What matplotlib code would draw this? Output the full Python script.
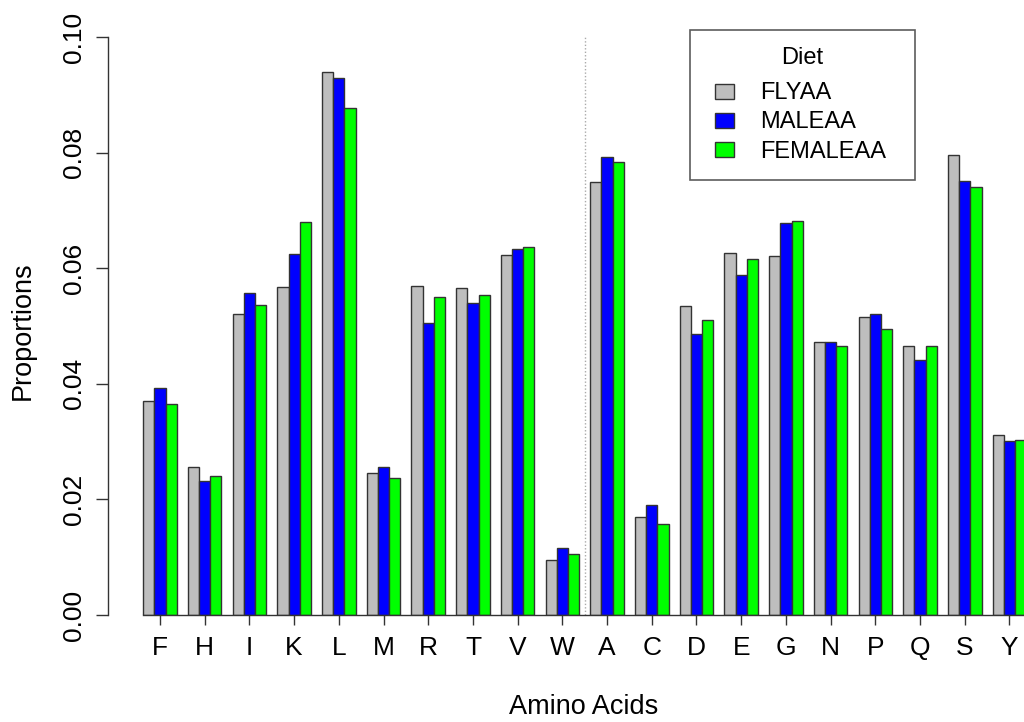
import numpy as np
from matplotlib import pyplot as plt
from matplotlib.patches import Rectangle
from matplotlib.legend_handler import HandlerPatch

plt.rcParams['font.family'] = ['Liberation Sans', 'DejaVu Sans']

amino = ['F', 'H', 'I', 'K', 'L', 'M', 'R', 'T', 'V', 'W',
         'A', 'C', 'D', 'E', 'G', 'N', 'P', 'Q', 'S', 'Y']
flyaa = [0.0370, 0.0256, 0.0520, 0.0567, 0.0940, 0.0245, 0.0569, 0.0565, 0.0622, 0.0095,
         0.0749, 0.0170, 0.0535, 0.0627, 0.0621, 0.0472, 0.0516, 0.0466, 0.0796, 0.0312]
maleaa = [0.0393, 0.0232, 0.0557, 0.0625, 0.0929, 0.0256, 0.0506, 0.0539, 0.0633, 0.0116,
          0.0792, 0.0190, 0.0487, 0.0588, 0.0679, 0.0472, 0.0520, 0.0442, 0.0751, 0.0301]
femaleaa = [0.0365, 0.0241, 0.0537, 0.0680, 0.0878, 0.0237, 0.0551, 0.0554, 0.0637, 0.0106,
            0.0783, 0.0157, 0.0511, 0.0616, 0.0682, 0.0466, 0.0495, 0.0466, 0.0740, 0.0303]
diets = ['FLYAA', 'MALEAA', 'FEMALEAA']
colors = ['#BEBEBE', '#0000FF', '#00FF00']

W, H = 1024, 722
fig = plt.figure(figsize=(W / 100, H / 100), dpi=100)
# plot region in pixels: x 108..1024, y 37..615
ax = fig.add_axes([108 / W, 1 - 615 / H, (W - 108) / W, (615 - 37) / H])

centers = np.arange(len(amino)) * 4.0
handles = []
for k, (vals, col, name) in enumerate(zip([flyaa, maleaa, femaleaa], colors, diets)):
    b = ax.bar(centers + (k - 1), vals, width=1.0, color=col, edgecolor='#333333',
               linewidth=1.0, label=name, zorder=3)
    handles.append(b.patches[0])

# divider between the two amino acid groups
split = (centers[9] + centers[10]) / 2
ax.plot([split, split], [0, 0.1], ls=(0, (1, 1.5)), color='#aaaaaa', lw=1.0, zorder=1)

ax.set_xlim(-4.65, 77.3)
ax.set_ylim(0, 0.1)
for s in ['top', 'right']:
    ax.spines[s].set_visible(False)
ax.spines['bottom'].set_bounds(-1.5, 77.3)
ax.spines['left'].set_bounds(0, 0.1)
for s in ['bottom', 'left']:
    ax.spines[s].set_color('#333333')
    ax.spines[s].set_linewidth(1.0)
    ax.spines[s].set_zorder(4)

ax.set_xticks(centers)
ax.set_xticklabels(amino)
ax.set_yticks(np.arange(0, 0.101, 0.02))
ax.set_yticklabels(['%.2f' % v for v in np.arange(0, 0.101, 0.02)], rotation=90, va='center')
ax.tick_params(axis='x', length=10 * 0.72, width=1.0, pad=8, labelsize=19, color='#333333')
ax.tick_params(axis='y', length=12 * 0.72, width=1.0, pad=7, labelsize=19, color='#333333')

fig.text(584 / W, 1 - 707 / H, 'Amino Acids', ha='center', va='center', fontsize=19.5)
fig.text(22.5 / W, 1 - 331 / H, 'Proportions', ha='center', va='center', fontsize=19.5, rotation=90)


def offset_box(legend, orig_handle, xdescent, ydescent, width, height, fontsize):
    # small square at the right end of the handle area, like R's legend fill boxes
    rw, rh = 19 * 0.72, 15 * 0.72
    return Rectangle((-xdescent + width - rw, -ydescent + (height - rh) / 2), rw, rh)


leg = ax.legend(handles=handles, labels=diets, title='Diet', loc='upper left',
                bbox_to_anchor=(690 / W, 1 - 37 / H, 225 / W, 0.01),
                bbox_transform=fig.transFigure, mode='expand', borderaxespad=0,
                fontsize=17, title_fontsize=17, fancybox=False, borderpad=0.72,
                handlelength=1.14, handleheight=0.7, handletextpad=1.1, labelspacing=0.3,
                handler_map={Rectangle: HandlerPatch(patch_func=offset_box)})
leg._legend_box.sep = 9.8  # extra room under the title
leg.get_frame().set_edgecolor('#333333')
leg.get_frame().set_linewidth(1.2)
leg.set_zorder(5)

fig.savefig('out.png', dpi=100)
